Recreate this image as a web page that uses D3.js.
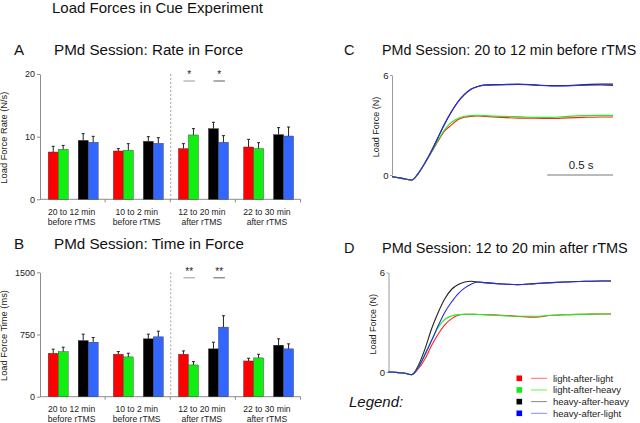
<!DOCTYPE html>
<html><head><meta charset="utf-8">
<script src="https://cdn.jsdelivr.net/npm/d3@7"></script>
<style>body{margin:0;background:#fff} svg{display:block;font-family:"Liberation Sans",Arial,sans-serif}</style>
</head><body><svg id="c" width="640" height="423"></svg>
<script>
// ---------- data ----------
const categories = ["20 to 12 min", "10 to 2 min", "12 to 20 min", "22 to 30 min"];
const categorySub = ["before rTMS", "before rTMS", "after rTMS", "after rTMS"];
const seriesNames = ["light-after-light", "light-after-heavy", "heavy-after-heavy", "heavy-after-light"];

// Panel A: rate in force (N/s)
const rateLAL = [7.55, 7.71, 8.09, 8.35];
const rateLAH = [7.98, 7.82, 10.27, 8.09];
const rateHAH = [9.41, 9.26, 11.28, 10.32];
const rateHAL = [9.10, 8.94, 9.10, 10.10];
const rateErrLAL = [0.91, 0.38, 0.79, 1.22];
const rateErrLAH = [0.62, 1.06, 1.01, 0.95];
const rateErrHAH = [1.07, 0.74, 1.01, 1.12];
const rateErrHAL = [0.95, 0.90, 1.06, 1.44];
const rateTicks = [0, 10, 20];

// Panel B: time in force (ms)
const timeLAL = [524, 512, 512, 431];
const timeLAH = [544, 480, 383, 468];
const timeHAH = [677, 698, 577, 621];
const timeHAL = [657, 722, 839, 577];
const timeErrLAL = [49, 32, 40, 33];
const timeErrLAH = [53, 44, 40, 44];
const timeErrHAH = [77, 56, 80, 77];
const timeErrHAL = [57, 68, 137, 60];
const timeTicks = [0, 750, 1500];

// Panel C: load force traces, 20 to 12 min before rTMS (s, N)
const timeC = [0, 0.076, 0.15, 0.20, 0.25, 0.30, 0.35, 0.40, 0.45, 0.50, 0.55, 0.60, 0.65, 0.70, 0.83, 0.96, 1.09, 1.21, 1.34, 1.46, 1.59, 1.68];
const forceC_LAL = [-0.1, -0.2, -0.3, 0.1, 0.71, 1.36, 2.03, 2.64, 2.99, 3.31, 3.46, 3.52, 3.54, 3.52, 3.46, 3.41, 3.41, 3.39, 3.43, 3.46, 3.48, 3.48];
const forceC_LAH = [-0.1, -0.2, -0.3, 0.1, 0.71, 1.38, 2.08, 2.72, 3.15, 3.39, 3.52, 3.56, 3.58, 3.56, 3.52, 3.50, 3.46, 3.46, 3.52, 3.56, 3.58, 3.58];
const forceC_HAH = [-0.1, -0.2, -0.3, 0.1, 0.73, 1.45, 2.27, 3.07, 3.78, 4.38, 4.83, 5.15, 5.31, 5.40, 5.43, 5.46, 5.41, 5.36, 5.37, 5.42, 5.45, 5.45];
const forceC_HAL = [-0.1, -0.2, -0.3, 0.1, 0.71, 1.42, 2.24, 3.05, 3.76, 4.37, 4.82, 5.14, 5.30, 5.39, 5.41, 5.43, 5.39, 5.35, 5.35, 5.39, 5.40, 5.37];

// Panel D: load force traces, 12 to 20 min after rTMS (s, N)
const timeD = [0, 0.076, 0.126, 0.177, 0.227, 0.278, 0.328, 0.379, 0.429, 0.48, 0.53, 0.58, 0.63, 0.68, 0.73, 0.86, 0.98, 1.11, 1.24, 1.36, 1.49, 1.62, 1.69];
const forceD_LAL = [0, -0.04, -0.08, -0.16, 0.20, 0.80, 1.61, 2.31, 2.86, 3.22, 3.42, 3.48, 3.48, 3.47, 3.46, 3.42, 3.36, 3.30, 3.42, 3.46, 3.48, 3.50, 3.50];
const forceD_LAH = [0, -0.04, -0.08, -0.16, 0.30, 1.11, 1.91, 2.72, 3.18, 3.38, 3.46, 3.48, 3.48, 3.47, 3.46, 3.40, 3.36, 3.36, 3.42, 3.46, 3.48, 3.50, 3.50];
const forceD_HAH = [0, -0.04, -0.08, -0.16, 0.40, 1.41, 2.62, 3.62, 4.43, 4.99, 5.27, 5.43, 5.47, 5.43, 5.39, 5.31, 5.27, 5.33, 5.39, 5.43, 5.47, 5.49, 5.49];
const forceD_HAL = [0, -0.04, -0.08, -0.16, 0.30, 1.05, 1.91, 2.82, 3.62, 4.23, 4.73, 5.07, 5.31, 5.43, 5.39, 5.31, 5.27, 5.33, 5.39, 5.43, 5.47, 5.49, 5.49];
const forceTicks = [0, 6];

// ---------- styles ----------
const barColor = {"light-after-light": "#ff0000", "light-after-heavy": "#11ee11", "heavy-after-heavy": "#000000", "heavy-after-light": "#3366ff"};
const traceColor = {"light-after-light": "#ff2222", "light-after-heavy": "#22ee22", "heavy-after-heavy": "#222222", "heavy-after-light": "#2a2ae0"};
const legendLineColor = {"light-after-light": "#ff6a6a", "light-after-heavy": "#5cf55c", "heavy-after-heavy": "#8a8a8a", "heavy-after-light": "#8a8aff"};
const legendSquare = {"light-after-light": "#ff0000", "light-after-heavy": "#11ee11", "heavy-after-heavy": "#000000", "heavy-after-light": "#0000ff"};
const axisGray = "#8c8c8c";
const fmt = d3.format("d");

const svg = d3.select("#c");

svg.append("text").attr("x", 52).attr("y", 13).attr("font-size", 15).attr("fill", "#111")
  .text("Load Forces in Cue Experiment");

function drawBars(cfg) {
  const g = svg.append("g");
  const x0 = d3.scaleBand().domain(categories).range([40, 300.5]).padding(0);
  const bw = x0.bandwidth();
  const slots = [seriesNames[0], seriesNames[1], "_gap", seriesNames[2], seriesNames[3]];
  const x1 = d3.scaleBand().domain(slots).range([8.2, 58.2]).padding(0);
  const y = d3.scaleLinear().domain([0, cfg.max]).range([cfg.bottom, cfg.top]);

  g.append("text").attr("x", 14).attr("y", cfg.titleY).attr("font-size", 15.2).attr("fill", "#111").text(cfg.letter);
  g.append("text").attr("x", 54).attr("y", cfg.titleY).attr("font-size", 15.2).attr("fill", "#111").text(cfg.title);

  const ya = g.append("g").attr("transform", "translate(40,0)")
    .call(d3.axisLeft(y).tickValues(cfg.ticks).tickFormat(fmt).tickSize(3).tickSizeOuter(0).tickPadding(2));
  ya.select(".domain").attr("stroke", axisGray);
  ya.selectAll(".tick line").attr("stroke", axisGray);
  ya.selectAll(".tick text").attr("font-size", 9).attr("fill", "#222").attr("font-family", "Liberation Sans, Arial, sans-serif");

  g.append("text").attr("transform", `translate(7,${(cfg.top + cfg.bottom) / 2 + 1}) rotate(-90)`)
    .attr("text-anchor", "middle").attr("font-size", 9.3).attr("fill", "#222").text(cfg.ylabel);

  g.append("line").attr("x1", 40).attr("x2", x0.range()[1]).attr("y1", y(0)).attr("y2", y(0)).attr("stroke", axisGray);
  g.selectAll(".xt").data(categories).join("line")
    .attr("x1", d => x0(d) + bw).attr("x2", d => x0(d) + bw)
    .attr("y1", y(0)).attr("y2", y(0) + 3).attr("stroke", axisGray);
  categories.forEach((c, i) => {
    const t = g.append("text").attr("text-anchor", "middle").attr("font-size", 8.6).attr("fill", "#222");
    t.append("tspan").attr("x", x0(c) + bw / 2 - 1).attr("y", y(0) + 15.3).text(c);
    t.append("tspan").attr("x", x0(c) + bw / 2 - 1).attr("y", y(0) + 25.3).text(categorySub[i]);
  });

  g.append("line").attr("x1", x0(categories[2]) + 0.5).attr("x2", x0(categories[2]) + 0.5)
    .attr("y1", y(cfg.max)).attr("y2", y(0)).attr("stroke", "#a0a0a0").attr("stroke-dasharray", "2,2");

  const rows = [];
  seriesNames.forEach((s, si) => categories.forEach((c, ci) => rows.push({s, c, v: cfg.means[si][ci], e: cfg.errs[si][ci]})));
  g.selectAll(".bar").data(rows).join("rect")
    .attr("x", d => x0(d.c) + x1(d.s)).attr("width", x1.bandwidth())
    .attr("y", d => y(d.v)).attr("height", d => y(0) - y(d.v))
    .attr("fill", d => barColor[d.s]).attr("stroke", "#333").attr("stroke-width", 0.4);
  g.selectAll(".err").data(rows).join("line")
    .attr("x1", d => x0(d.c) + x1(d.s) + x1.bandwidth() / 2).attr("x2", d => x0(d.c) + x1(d.s) + x1.bandwidth() / 2)
    .attr("y1", d => y(d.v)).attr("y2", d => y(d.v + d.e)).attr("stroke", "#222").attr("stroke-width", 1);
  g.selectAll(".cap").data(rows).join("line")
    .attr("x1", d => x0(d.c) + x1(d.s) + x1.bandwidth() / 2 - 1.5).attr("x2", d => x0(d.c) + x1(d.s) + x1.bandwidth() / 2 + 1.5)
    .attr("y1", d => y(d.v + d.e)).attr("y2", d => y(d.v + d.e)).attr("stroke", "#222").attr("stroke-width", 1);

  cfg.sig.forEach((m, k) => {
    const c = categories[m.group];
    const xa = x0(c) + x1(seriesNames[m.pair[0]]) + x1.bandwidth() / 2;
    const xb = x0(c) + x1(seriesNames[m.pair[1]]) + x1.bandwidth() / 2 + 1.5;
    g.append("line").attr("x1", xa).attr("x2", xb).attr("y1", cfg.top + cfg.sigOff).attr("y2", cfg.top + cfg.sigOff)
      .attr("stroke", k === 0 ? "#aaa" : "#777").attr("stroke-width", 1.2);
    g.append("text").attr("x", (xa + xb) / 2).attr("y", cfg.top + cfg.sigOff - 3).attr("text-anchor", "middle")
      .attr("font-size", 10).attr("fill", "#222").text(m.label);
  });
}

drawBars({letter: "A", title: "PMd Session: Rate in Force", titleY: 55, top: 74, bottom: 199.3, max: 20,
  ticks: rateTicks, ylabel: "Load Force Rate (N/s)",
  means: [rateLAL, rateLAH, rateHAH, rateHAL], errs: [rateErrLAL, rateErrLAH, rateErrHAH, rateErrHAL],
  sig: [{group: 2, pair: [0, 1], label: "*"}, {group: 2, pair: [2, 3], label: "*"}], sigOff: 7});

drawBars({letter: "B", title: "PMd Session: Time in Force", titleY: 249, top: 272.3, bottom: 396.7, max: 1500,
  ticks: timeTicks, ylabel: "Load Force Time (ms)",
  means: [timeLAL, timeLAH, timeHAH, timeHAL], errs: [timeErrLAL, timeErrLAH, timeErrHAH, timeErrHAL],
  sig: [{group: 2, pair: [0, 1], label: "**"}, {group: 2, pair: [2, 3], label: "**"}], sigOff: 5.5});

function drawTraces(cfg) {
  const g = svg.append("g");
  const x = d3.scaleLinear().domain([0, cfg.t[cfg.t.length - 1]]).range([cfg.left, cfg.right]);
  const y = d3.scaleLinear().domain([0, 6]).range([cfg.bottom, cfg.top]);

  g.append("text").attr("x", 344).attr("y", cfg.titleY).attr("font-size", cfg.titleSize).attr("fill", "#111").text(cfg.letter);
  const tt = g.append("text").attr("x", 382).attr("y", cfg.titleY).attr("font-size", cfg.titleSize).attr("fill", "#111").text(cfg.title);
  // keep title inside the picture
  let fs = cfg.titleSize;
  while (382 + tt.node().getComputedTextLength() > 637.5 && fs > 10) {
    fs -= 0.1;
    tt.attr("font-size", fs);
  }

  const ya = g.append("g").attr("transform", `translate(${cfg.left},0)`)
    .call(d3.axisLeft(y).tickValues(forceTicks).tickFormat(fmt).tickSize(2).tickSizeOuter(0).tickPadding(1.5));
  ya.select(".domain").attr("stroke", "#9a9a9a");
  ya.selectAll(".tick line").attr("stroke", "#9a9a9a");
  ya.selectAll(".tick text").attr("font-size", 9.5).attr("fill", "#222").attr("font-family", "Liberation Sans, Arial, sans-serif");

  g.append("text").attr("transform", `translate(${cfg.left - 13},${(cfg.top + cfg.bottom) / 2 + 2}) rotate(-90)`)
    .attr("text-anchor", "middle").attr("font-size", 9).attr("fill", "#222").text("Load Force (N)");

  const line = d3.line().x((d, i) => x(cfg.t[i])).y(d => y(d)).curve(d3.curveMonotoneX);
  const order = ["heavy-after-heavy", "light-after-light", "light-after-heavy", "heavy-after-light"];
  order.forEach(s => {
    g.append("path").attr("d", line(cfg.series[s])).attr("fill", "none")
      .attr("stroke", traceColor[s]).attr("stroke-width", 1.1);
  });
  return {g, x, y};
}

const pc = drawTraces({letter: "C", title: "PMd Session: 20 to 12 min before rTMS", titleY: 55, titleSize: 14.6,
  left: 392, right: 613, top: 75, bottom: 175, t: timeC,
  series: {"light-after-light": forceC_LAL, "light-after-heavy": forceC_LAH, "heavy-after-heavy": forceC_HAH, "heavy-after-light": forceC_HAL}});

const tEnd = timeC[timeC.length - 1];
pc.g.append("line").attr("x1", pc.x(tEnd - 0.5)).attr("x2", pc.x(tEnd)).attr("y1", 175).attr("y2", 175)
  .attr("stroke", "#777").attr("stroke-width", 1);
pc.g.append("text").attr("x", (pc.x(tEnd - 0.5) + pc.x(tEnd)) / 2 + 1).attr("y", 169).attr("text-anchor", "middle")
  .attr("font-size", 11.5).attr("fill", "#222").text("0.5 s");

drawTraces({letter: "D", title: "PMd Session: 12 to 20 min after rTMS", titleY: 253, titleSize: 14.5,
  left: 388.5, right: 611, top: 272.5, bottom: 372, t: timeD,
  series: {"light-after-light": forceD_LAL, "light-after-heavy": forceD_LAH, "heavy-after-heavy": forceD_HAH, "heavy-after-light": forceD_HAL}});

svg.append("text").attr("x", 349).attr("y", 407).attr("font-size", 15).attr("font-style", "italic")
  .attr("fill", "#111").text("Legend:");
const legY = d3.scalePoint().domain(seriesNames).range([378.3, 413.3]);
const lg = svg.append("g");
lg.selectAll("rect").data(seriesNames).join("rect")
  .attr("x", 516.5).attr("y", d => legY(d) - 2.8).attr("width", 5.6).attr("height", 5.6).attr("fill", d => legendSquare[d]);
lg.selectAll("line").data(seriesNames).join("line")
  .attr("x1", 531).attr("x2", 547).attr("y1", d => legY(d)).attr("y2", d => legY(d))
  .attr("stroke", d => legendLineColor[d]).attr("stroke-width", 1);
lg.selectAll("text").data(seriesNames).join("text")
  .attr("x", 553).attr("y", d => legY(d) + 3.4).attr("font-size", 9.5).attr("fill", "#222").text(d => d);
</script></body></html>
